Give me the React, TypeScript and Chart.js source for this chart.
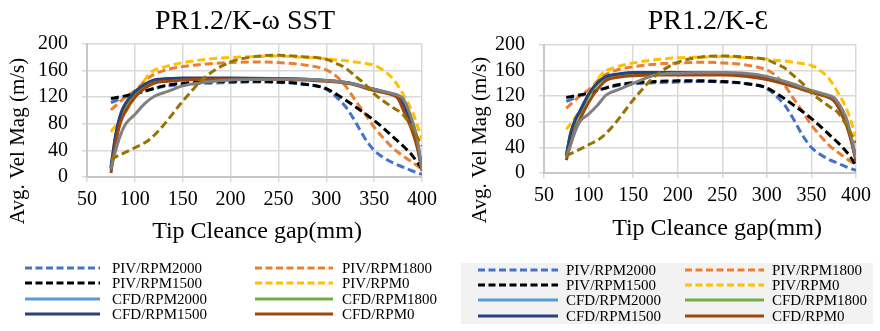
import React, { useEffect, useRef } from "react";
import { Chart, registerables } from "chart.js";

Chart.register(...registerables);

const FONT = "'Liberation Serif', 'Times New Roman', serif";

// ---------- data ----------
const X_TICK_MIN = 50;
const X_TICK_MAX = 400;
const X_TICK_STEP = 50;
const Y_TICK_MIN = 0;
const Y_TICK_MAX = 200;
const Y_TICK_STEP = 40;

const SERIES_LABELS = [
  "PIV/RPM2000",
  "PIV/RPM1800",
  "PIV/RPM1500",
  "PIV/RPM0",
  "CFD/RPM2000",
  "CFD/RPM1800",
  "CFD/RPM1500",
  "CFD/RPM0",
  "CFD/extra",
  "PIV/extra",
];

const PIV_X = [75, 90, 100, 115, 130, 150, 175, 200, 225, 250, 275, 300, 310, 320, 330, 340, 350, 360, 370, 380, 390, 400];
const PIV_RPM2000 = [112, 120, 125, 131, 136, 139, 141, 142, 143, 142, 140, 132, 121, 106, 84, 59, 40, 29, 21, 15, 9, 4];
const PIV_RPM1800 = [101, 120, 130, 150, 160, 166, 170, 172, 173, 172, 169, 161, 152, 137, 116, 96, 75, 58, 43, 32, 22, 12];
const PIV_RPM1500 = [118, 122, 125, 131, 137, 141, 143, 144, 144, 143, 140, 133, 125, 116, 106, 96, 85, 73, 60, 47, 32, 12];
const PIV_RPM0 = [68, 97, 120, 155, 165, 172, 177, 180, 181, 182, 180, 178, 176, 175, 173, 171, 168, 160, 147, 125, 98, 57];
const PIV_EXTRA = [27, 37, 44, 56, 78, 114, 152, 173, 181, 183, 181, 177, 171, 164, 152, 140, 125, 114, 104, 94, 73, 47];

const CFD_X = [75, 80, 85, 90, 100, 110, 120, 135, 150, 175, 200, 250, 275, 300, 325, 350, 365, 375, 380, 385, 390, 395, 400];

// K-omega SST
const SST_CFD_RPM2000 = [15, 62, 92, 108, 127, 138, 145, 147, 148, 148, 148, 148, 147, 145, 141, 132, 126, 121, 112, 96, 76, 50, 12];
const SST_CFD_RPM1800 = [12, 58, 88, 105, 124, 136, 144, 147, 148, 148, 148, 148, 147, 145, 141, 131, 126, 120, 110, 94, 74, 48, 11];
const SST_CFD_RPM1500 = [14, 64, 94, 110, 128, 139, 146, 148, 149, 149, 149, 148, 147, 145, 141, 132, 126, 121, 111, 95, 75, 49, 12];
const SST_CFD_RPM0 = [6, 52, 82, 98, 120, 133, 141, 144, 146, 147, 147, 147, 146, 144, 140, 130, 125, 118, 102, 86, 68, 44, 9];
const SST_CFD_EXTRA = [12, 40, 63, 79, 94, 110, 121, 129, 137, 143, 146, 147, 147, 145, 141, 132, 127, 123, 118, 104, 84, 58, 10];

// K-epsilon
const KE_CFD_RPM2000 = [28, 62, 82, 95, 122, 140, 150, 154, 156, 156, 156, 156, 154, 149, 139, 127, 121, 117, 108, 93, 76, 52, 22];
const KE_CFD_RPM1800 = [26, 60, 80, 93, 120, 139, 149, 154, 156, 156, 156, 156, 154, 149, 139, 127, 121, 116, 107, 92, 75, 50, 21];
const KE_CFD_RPM1500 = [27, 63, 83, 96, 123, 141, 151, 155, 157, 157, 157, 156, 154, 149, 139, 127, 121, 117, 108, 93, 76, 51, 22];
const KE_CFD_RPM0 = [20, 46, 68, 83, 110, 131, 145, 150, 152, 153, 153, 153, 151, 146, 137, 126, 120, 113, 103, 88, 72, 48, 18];
const KE_CFD_EXTRA = [25, 45, 65, 80, 92, 106, 122, 131, 140, 153, 156, 157, 156, 151, 141, 129, 123, 118, 110, 98, 82, 55, 23];

const COLORS = ["#4472C4", "#ED7D31", "#000000", "#FFC000", "#5B9BD5", "#70AD47", "#264478", "#9E480E", "#808080", "#997300"];
const DASHED = [true, true, true, true, false, false, false, false, false, true];
const LEGEND_COUNT = 8;

// ---------- helpers ----------
const zip = (xs: number[], ys: number[]) => xs.map((x, i) => ({ x, y: ys[i] }));

type Panel = {
  title: string;
  cfd: number[][];
  area: { left: number; top: number; right: number; bottom: number };
  titlePos: [number, number];
  xTitlePos: [number, number];
  yTitlePos: [number, number];
  legend: {
    bg?: [number, number, number, number];
    col1Line: [number, number];
    col1Text: number;
    col2Line: [number, number];
    col2Text: number;
    rows: number[];
  };
};

const W = 440;
const H = 331;

const PANELS: Panel[] = [
  {
    title: "PR1.2/K-ω SST",
    cfd: [SST_CFD_RPM2000, SST_CFD_RPM1800, SST_CFD_RPM1500, SST_CFD_RPM0, SST_CFD_EXTRA],
    area: { left: 87, top: 44, right: 422, bottom: 177 },
    titlePos: [245, 22],
    xTitlePos: [257, 232],
    yTitlePos: [18, 141],
    legend: {
      col1Line: [25, 100],
      col1Text: 112,
      col2Line: [255, 333],
      col2Text: 342,
      rows: [268, 283, 299, 314],
    },
  },
  {
    title: "PR1.2/K-Ɛ",
    cfd: [KE_CFD_RPM2000, KE_CFD_RPM1800, KE_CFD_RPM1500, KE_CFD_RPM0, KE_CFD_EXTRA],
    area: { left: 104, top: 45, right: 416, bottom: 173 },
    titlePos: [268, 22],
    xTitlePos: [277, 229],
    yTitlePos: [40, 140],
    legend: {
      bg: [21, 263, 412, 61],
      col1Line: [38, 118],
      col1Text: 126,
      col2Line: [245, 324],
      col2Text: 332,
      rows: [270, 285, 300, 316],
    },
  },
];

function buildDatasets(p: Panel) {
  const series = [
    zip(PIV_X, PIV_RPM2000),
    zip(PIV_X, PIV_RPM1800),
    zip(PIV_X, PIV_RPM1500),
    zip(PIV_X, PIV_RPM0),
    zip(CFD_X, p.cfd[0]),
    zip(CFD_X, p.cfd[1]),
    zip(CFD_X, p.cfd[2]),
    zip(CFD_X, p.cfd[3]),
    zip(CFD_X, p.cfd[4]),
    zip(PIV_X, PIV_EXTRA),
  ];
  return series.map((data, i) => ({
    label: SERIES_LABELS[i],
    data,
    borderColor: COLORS[i],
    backgroundColor: COLORS[i],
    borderWidth: 3,
    borderDash: DASHED[i] ? [8, 4] : [],
    pointRadius: 0,
    fill: false,
    cubicInterpolationMode: "monotone" as const,
    order: series.length - i,
  }));
}

function ChartPanel({ panel }: { panel: Panel }) {
  const ref = useRef<HTMLCanvasElement | null>(null);

  useEffect(() => {
    if (!ref.current) return;
    const p = panel;
    const decor = {
      id: "decor",
      afterDraw(chart: any) {
        const ctx = chart.ctx as CanvasRenderingContext2D;
        ctx.save();
        ctx.fillStyle = "#000";
        ctx.textAlign = "center";
        ctx.textBaseline = "middle";
        // title
        ctx.font = `28px ${FONT}`;
        ctx.fillText(p.title, p.titlePos[0], p.titlePos[1]);
        // x title
        ctx.font = `24px ${FONT}`;
        ctx.fillText("Tip Cleance gap(mm)", p.xTitlePos[0], p.xTitlePos[1]);
        // y title
        ctx.save();
        ctx.translate(p.yTitlePos[0], p.yTitlePos[1]);
        ctx.rotate(-Math.PI / 2);
        ctx.font = `21px ${FONT}`;
        ctx.fillText("Avg. Vel Mag (m/s)", 0, 0);
        ctx.restore();
        // legend
        const lg = p.legend;
        if (lg.bg) {
          ctx.fillStyle = "#f2f2f2";
          ctx.fillRect(lg.bg[0], lg.bg[1], lg.bg[2], lg.bg[3]);
        }
        ctx.font = `15px ${FONT}`;
        ctx.textAlign = "left";
        ctx.textBaseline = "middle";
        const ds = chart.data.datasets;
        for (let i = 0; i < LEGEND_COUNT; i++) {
          const col = i % 2;
          const row = Math.floor(i / 2);
          const y = lg.rows[row];
          const [x1, x2] = col ? lg.col2Line : lg.col1Line;
          const tx = col ? lg.col2Text : lg.col1Text;
          ctx.strokeStyle = ds[i].borderColor;
          ctx.lineWidth = 3;
          ctx.setLineDash(DASHED[i] ? [7, 3.5] : []);
          ctx.beginPath();
          ctx.moveTo(x1, y);
          ctx.lineTo(x2, y);
          ctx.stroke();
          ctx.setLineDash([]);
          ctx.fillStyle = "#000";
          ctx.fillText(ds[i].label, tx, y + 1);
        }
        ctx.restore();
      },
    };

    const chart = new Chart(ref.current, {
      type: "line",
      data: { datasets: buildDatasets(p) as any },
      options: {
        responsive: false,
        animation: false,
        devicePixelRatio: 1,
        layout: {
          padding: { left: 0, top: p.area.top, right: W - p.area.right, bottom: 0 },
        },
        plugins: {
          legend: { display: false },
          title: { display: false },
          tooltip: { enabled: false },
        },
        scales: {
          x: {
            type: "linear",
            min: X_TICK_MIN,
            max: X_TICK_MAX,
            ticks: {
              stepSize: X_TICK_STEP,
              color: "#000",
              font: { family: FONT, size: 20 },
              padding: 6,
              maxRotation: 0,
              autoSkip: false,
            },
            grid: { color: "#d9d9d9", lineWidth: 1.5, tickLength: 5 },
            border: { color: "#c8c8c8", width: 2 },
            afterFit: (s: any) => {
              s.height = H - p.area.bottom;
              s.paddingLeft = 0;
              s.paddingRight = 0;
            },
          },
          y: {
            type: "linear",
            min: Y_TICK_MIN,
            max: Y_TICK_MAX,
            ticks: {
              stepSize: Y_TICK_STEP,
              color: "#000",
              font: { family: FONT, size: 20 },
              padding: 14,
              autoSkip: false,
            },
            grid: { color: "#d9d9d9", lineWidth: 1.5, tickLength: 5 },
            border: { color: "#c8c8c8", width: 2 },
            afterFit: (s: any) => {
              s.width = p.area.left;
            },
          },
        },
      },
      plugins: [decor],
    } as any);
    return () => chart.destroy();
  }, [panel]);

  return <canvas ref={ref} width={W} height={H} style={{ display: "block", width: W, height: H }} />;
}

export default function App() {
  return (
    <div
      style={{
        position: "absolute",
        left: 0,
        top: 0,
        width: 880,
        height: 331,
        display: "flex",
        background: "#fff",
      }}
    >
      {PANELS.map((p, i) => (
        <ChartPanel key={i} panel={p} />
      ))}
    </div>
  );
}
